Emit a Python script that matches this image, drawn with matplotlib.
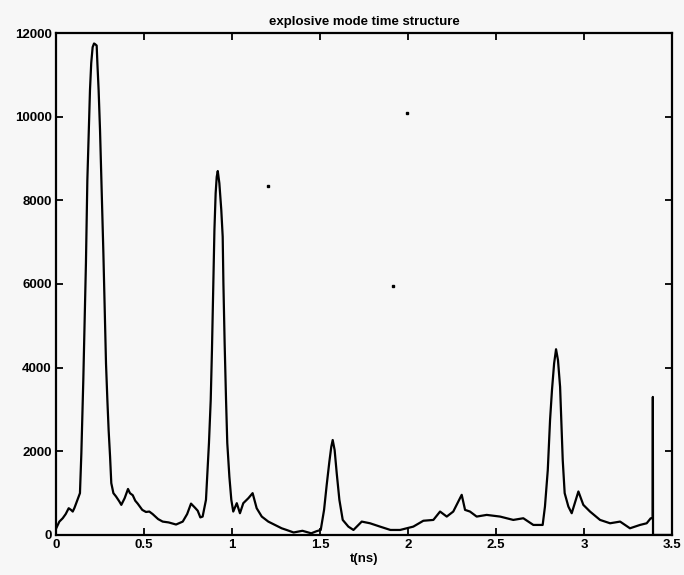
import matplotlib
matplotlib.use("Agg")
import matplotlib.pyplot as plt

# tiempo (ns) y cuentas
t_ns = [0.000, 0.019, 0.038, 0.055, 0.072, 0.085, 0.095, 0.105, 0.114, 0.129,
        0.136, 0.144, 0.155, 0.163, 0.170, 0.178, 0.186, 0.193, 0.200, 0.208,
        0.216, 0.223, 0.231, 0.235, 0.242, 0.250, 0.258, 0.269, 0.277, 0.284,
        0.292, 0.299, 0.307, 0.314, 0.326, 0.341, 0.360, 0.371, 0.390, 0.409,
        0.420, 0.436, 0.450, 0.464, 0.490, 0.511, 0.530, 0.549, 0.580, 0.606,
        0.640, 0.682, 0.720, 0.745, 0.767, 0.790, 0.805, 0.820, 0.833, 0.852,
        0.869, 0.879, 0.886, 0.894, 0.900, 0.907, 0.913, 0.919, 0.928, 0.939,
        0.947, 0.951, 0.958, 0.966, 0.973, 0.985, 0.996, 1.007, 1.027, 1.045,
        1.064, 1.093, 1.117, 1.140, 1.169, 1.206, 1.244, 1.282, 1.310, 1.350,
        1.400, 1.450, 1.480, 1.504, 1.523, 1.538, 1.553, 1.564, 1.572, 1.583,
        1.595, 1.610, 1.629, 1.661, 1.690, 1.737, 1.784, 1.841, 1.900, 1.955,
        2.030, 2.087, 2.144, 2.182, 2.220, 2.257, 2.286, 2.305, 2.324, 2.352,
        2.390, 2.447, 2.523, 2.598, 2.655, 2.712, 2.765, 2.778, 2.794, 2.807,
        2.818, 2.830, 2.841, 2.852, 2.864, 2.871, 2.879, 2.890, 2.911, 2.930,
        2.968, 2.996, 3.034, 3.091, 3.148, 3.205, 3.261, 3.318, 3.356, 3.379,
        3.390, 3.391, 3.392, 3.450, 3.500]

cuentas = [150, 320, 400, 500, 640, 600, 560, 650, 750, 920,
           1000, 1960, 3700, 5140, 6500, 8480, 9680, 10640, 11280, 11660,
           11750, 11730, 11700, 11280, 10640, 9680, 8480, 6750, 5300, 4100,
           3200, 2500, 1880, 1240, 1000, 920, 800, 720, 880, 1100,
           1000, 950, 820, 750, 600, 550, 560, 500, 380, 320,
           300, 250, 320, 500, 750, 650, 580, 420, 440, 840,
           2200, 3230, 4420, 6020, 7290, 8170, 8560, 8700, 8410, 7770,
           7130, 6020, 4590, 3230, 2200, 1390, 840, 560, 760, 520,
           760, 880, 1000, 640, 440, 320, 240, 160, 120, 60,
           100, 40, 90, 120, 600, 1200, 1750, 2110, 2270, 2030,
           1470, 840, 360, 200, 120, 320, 280, 200, 120, 120,
           200, 340, 360, 560, 440, 560, 800, 960, 600, 560,
           440, 480, 440, 360, 400, 240, 240, 680, 1550, 2750,
           3470, 4100, 4440, 4180, 3540, 2750, 1790, 1000, 680, 520,
           1040, 720, 560, 360, 280, 320, 160, 240, 280, 400,
           400, 3300, 0, 0, 0]

# puntos sueltos del escaneo
puntos_x = [1.203, 1.917, 1.993]
puntos_y = [8340, 5960, 10094]

fondo = '#f7f7f7'
fig = plt.figure(figsize=(6.84, 5.75), dpi=100, facecolor=fondo)
ax = fig.add_axes([0.0819, 0.0696, 0.9006, 0.873], facecolor=fondo)

ax.plot(t_ns, cuentas, color='black', lw=1.6)
ax.plot(puntos_x, puntos_y, 's', color='black', ms=2, lw=0)

ax.set_xlim(0, 3.5)
ax.set_ylim(0, 12000)
ax.set_xticks([0, 0.5, 1, 1.5, 2, 2.5, 3, 3.5])
ax.set_xticklabels(['0', '0.5', '1', '1.5', '2', '2.5', '3', '3.5'])
ax.set_yticks([0, 2000, 4000, 6000, 8000, 10000, 12000])

fuente = dict(family='Liberation Sans', weight='bold')
for lab in ax.get_xticklabels() + ax.get_yticklabels():
    lab.set_fontfamily('Liberation Sans')
    lab.set_fontweight('bold')
    lab.set_fontsize(9.5)

ax.tick_params(direction='in', top=True, right=True, length=5, width=1.3, pad=3)
for s in ax.spines.values():
    s.set_linewidth(1.6)

ax.set_xlabel('t(ns)', fontsize=9.5, labelpad=1, **fuente)
ax.set_title('explosive mode time structure', fontsize=9.5, pad=6, **fuente)

fig.savefig('out.png', dpi=100, facecolor=fondo)
